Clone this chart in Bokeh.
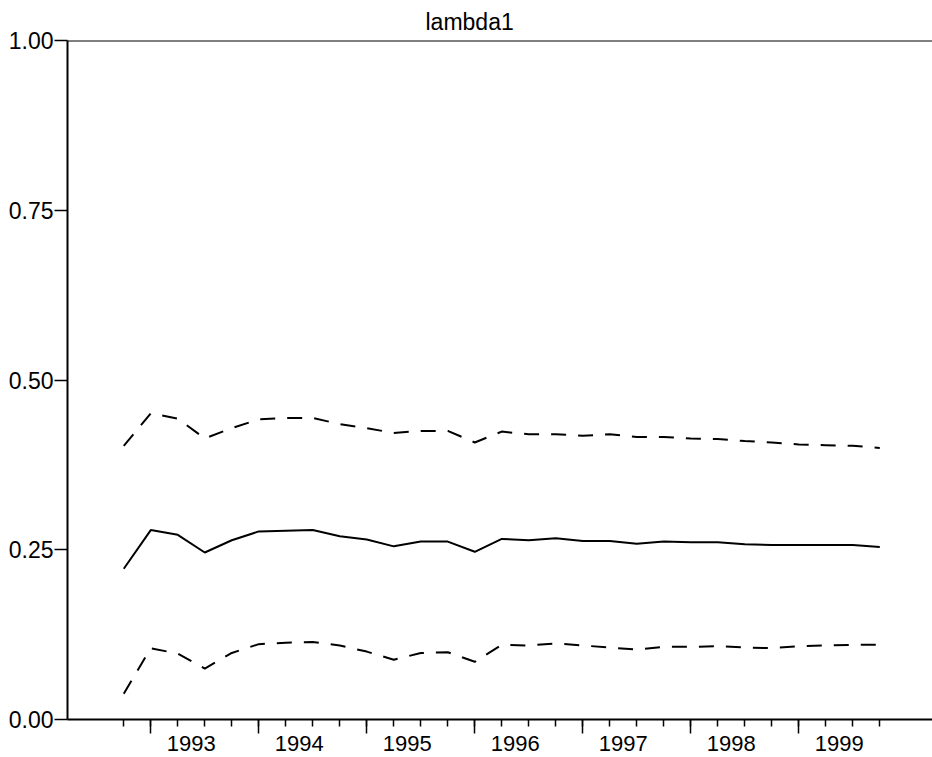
from bokeh.plotting import figure
from bokeh.models import (Range1d, LinearAxis, FixedTicker, Span, Title)
from bokeh.embed import file_html
from bokeh.resources import INLINE

# ---- data ----
quarters = ["1992Q4",
            "1993Q1", "1993Q2", "1993Q3", "1993Q4",
            "1994Q1", "1994Q2", "1994Q3", "1994Q4",
            "1995Q1", "1995Q2", "1995Q3", "1995Q4",
            "1996Q1", "1996Q2", "1996Q3", "1996Q4",
            "1997Q1", "1997Q2", "1997Q3", "1997Q4",
            "1998Q1", "1998Q2", "1998Q3", "1998Q4",
            "1999Q1", "1999Q2", "1999Q3", "1999Q4"]
lambda1 = [0.222, 0.279, 0.272, 0.246, 0.264, 0.277, 0.278, 0.279, 0.270,
           0.265, 0.255, 0.262, 0.262, 0.247, 0.266, 0.264, 0.267, 0.263,
           0.263, 0.259, 0.262, 0.261, 0.261, 0.258, 0.257, 0.257, 0.257,
           0.257, 0.254]
upper = [0.403, 0.451, 0.443, 0.414, 0.429, 0.442, 0.444, 0.444, 0.435,
         0.429, 0.422, 0.425, 0.425, 0.408, 0.424, 0.420, 0.420, 0.418,
         0.420, 0.416, 0.416, 0.414, 0.413, 0.410, 0.408, 0.405, 0.404,
         0.403, 0.400]
lower = [0.038, 0.105, 0.097, 0.075, 0.098, 0.111, 0.113, 0.114, 0.109,
         0.100, 0.088, 0.098, 0.099, 0.085, 0.110, 0.109, 0.112, 0.109,
         0.106, 0.103, 0.107, 0.107, 0.108, 0.106, 0.105, 0.108, 0.109,
         0.110, 0.110]
years = [1993, 1994, 1995, 1996, 1997, 1998, 1999]
y_ticks = [0.0, 0.25, 0.5, 0.75, 1.0]
y_labels = ["0.00", "0.25", "0.50", "0.75", "1.00"]
title_text = "lambda1"


def qnum(s):
    return int(s[:4]) + (int(s[5]) - 1) / 4.0


x = [qnum(q) for q in quarters]
q1_pos = [float(y) for y in years]
year_centers = [y + 0.375 for y in years]

FONT = "Liberation Sans"

p = figure(width=932, height=757, output_backend="svg", toolbar_location=None,
           x_axis_location=None, y_axis_location=None,
           x_range=Range1d(1992.229, 2000.238), y_range=Range1d(0, 1),
           min_border_left=67, min_border_right=0, min_border_top=40,
           min_border_bottom=38)
p.outline_line_color = None
p.grid.visible = False
p.background_fill_color = "white"
p.border_fill_color = "white"

t = Title(text=title_text, align="left", offset=358, standoff=11,
          text_font=FONT, text_font_size="23px", text_font_style="normal",
          text_color="black")
p.add_layout(t, "above")

# lines
p.line(x, lambda1, line_color="black", line_width=2)
p.line(x, upper, line_color="black", line_width=2, line_dash="15 12")
p.line(x, lower, line_color="black", line_width=2, line_dash="15 12")

# top border line
p.add_layout(Span(location=1.0, dimension="width", line_color="black",
                  line_width=2))

# y axis
ya = LinearAxis(ticker=FixedTicker(ticks=y_ticks, minor_ticks=[]))
ya.major_label_overrides = {v: l for v, l in zip(y_ticks, y_labels)}
ya.major_tick_out = 13
ya.major_tick_in = 0
ya.major_tick_line_width = 1.5
ya.axis_line_width = 2
ya.major_label_standoff = 1
ya.major_label_text_font = FONT
ya.major_label_text_font_size = "23px"
ya.major_label_text_color = "black"
p.add_layout(ya, "left")

# x axis: line and ticks (no labels)
xa = LinearAxis(ticker=FixedTicker(ticks=q1_pos, minor_ticks=x))
xa.major_tick_out = 14
xa.major_tick_in = 0
xa.minor_tick_out = 7
xa.minor_tick_in = 0
xa.major_tick_line_width = 1.5
xa.minor_tick_line_width = 1.5
xa.axis_line_width = 2
xa.major_label_text_color = None
xa.major_label_text_font_size = "0px"
xa.major_label_standoff = 0
p.add_layout(xa, "below")

# x axis: year labels centred on each year
xb = LinearAxis(ticker=FixedTicker(ticks=year_centers, minor_ticks=[]))
xb.major_label_overrides = {c: str(y) for c, y in zip(year_centers, years)}
xb.axis_line_color = None
xb.major_tick_line_color = None
xb.major_tick_out = 0
xb.major_tick_in = 0
xb.minor_tick_line_color = None
xb.major_label_standoff = 2
xb.major_label_text_font = FONT
xb.major_label_text_font_size = "22px"
xb.major_label_text_color = "black"
p.add_layout(xb, "below")

open("out.html", "w").write(file_html(p, INLINE))
